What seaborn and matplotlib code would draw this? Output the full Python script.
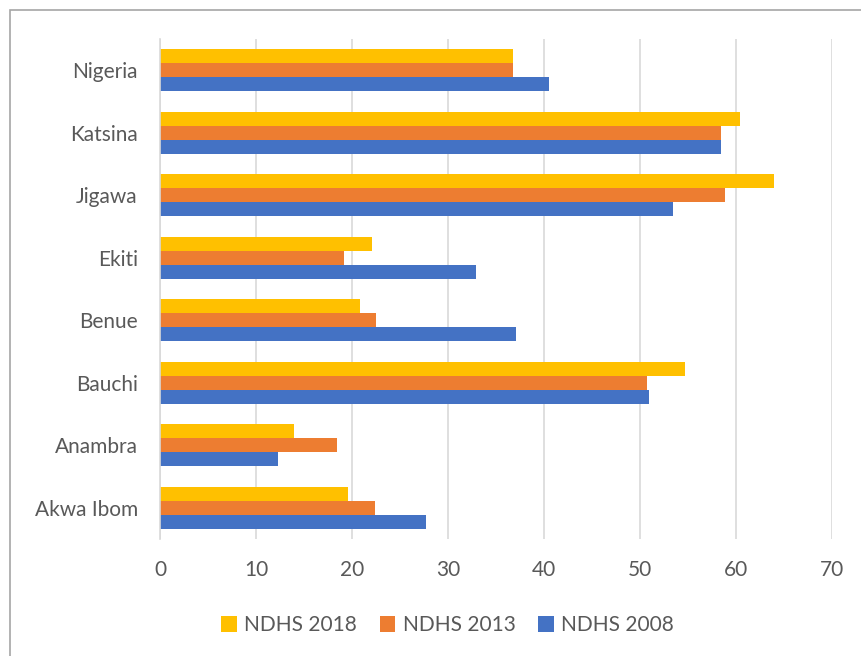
import matplotlib
matplotlib.use("Agg")
import matplotlib.pyplot as plt
import seaborn as sns
import pandas as pd
from matplotlib.patches import Rectangle

states = ["Nigeria", "Katsina", "Jigawa", "Ekiti", "Benue", "Bauchi", "Anambra", "Akwa Ibom"]
ndhs_2018 = [36.8, 60.4, 64.0, 22.1, 20.8, 54.7, 14.0, 19.6]
ndhs_2013 = [36.8, 58.4, 58.9, 19.2, 22.5, 50.7, 18.4, 22.4]
ndhs_2008 = [40.5, 58.4, 53.4, 32.9, 37.1, 50.9, 12.3, 27.7]
series = ["NDHS 2018", "NDHS 2013", "NDHS 2008"]
colors = ["#FFC000", "#ED7D31", "#4472C4"]
x_ticks = [0, 10, 20, 30, 40, 50, 60, 70]

df = pd.DataFrame({
    "state": states * 3,
    "value": ndhs_2018 + ndhs_2013 + ndhs_2008,
    "survey": [series[0]] * len(states) + [series[1]] * len(states) + [series[2]] * len(states),
})

sns.set_theme(style="white")
plt.rcParams["font.family"] = ["Lato", "DejaVu Sans"]
text_color = "#595959"
fsize = 15

fig = plt.figure(figsize=(8.61, 6.56), dpi=100)
ax = fig.add_axes([0.1858, 0.178, 0.7805, 0.763])

sns.barplot(data=df, x="value", y="state", hue="survey", order=states,
            hue_order=series, palette=colors, orient="h", width=0.67,
            saturation=1, edgecolor="none", linewidth=0, ax=ax)

ax.set_xlim(0, 70)
ax.set_xticks(x_ticks)
ax.set_xticklabels([str(t) for t in x_ticks])
ax.grid(axis="x", color="#D9D9D9", linewidth=1.2)
ax.grid(axis="y", visible=False)
ax.set_axisbelow(True)
for side in ["top", "right", "bottom"]:
    ax.spines[side].set_visible(False)
ax.spines["left"].set_color("#D9D9D9")
ax.spines["left"].set_linewidth(1.2)
ax.set_xlabel("")
ax.set_ylabel("")
ax.tick_params(axis="both", length=0, labelsize=fsize, colors=text_color)
ax.tick_params(axis="x", pad=15)
ax.tick_params(axis="y", pad=16)

handles, labels = ax.get_legend_handles_labels()
ax.legend(handles, labels, loc="center", bbox_to_anchor=(0.428, -0.172),
          ncol=3, frameon=False, fontsize=fsize, handlelength=0.75, handleheight=0.75,
          handletextpad=0.35, columnspacing=1.1, labelcolor=text_color)

# outer chart frame
fig.patches.append(Rectangle((10 / 861, -0.1), 1.1, 1 - 10 / 656 + 0.1,
                             transform=fig.transFigure, fill=False,
                             edgecolor="#A6A6A6", linewidth=1.2))

fig.savefig("out.png", dpi=100)
